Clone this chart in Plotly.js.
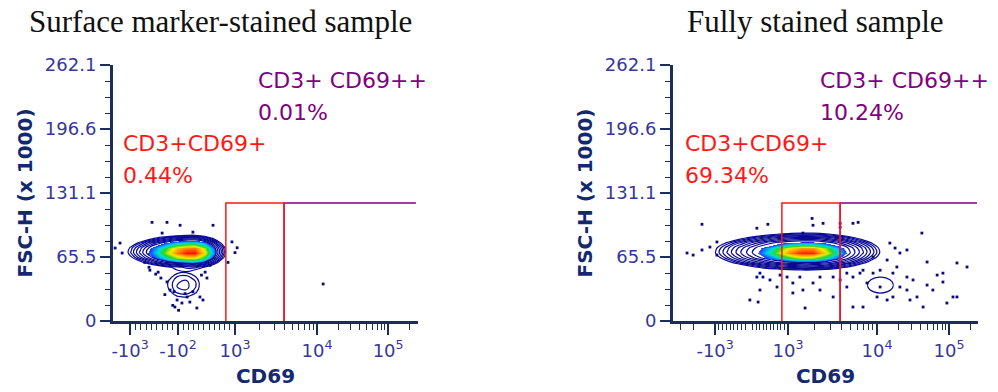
<!DOCTYPE html>
<html>
<head>
<meta charset="utf-8">
<script src="https://cdn.plot.ly/plotly-3.0.1.min.js"></script>
<style>html,body{margin:0;padding:0;background:#fff;}#chart{width:998px;height:392px;}</style>
</head>
<body>
<div id="chart"></div>
<script>
// ---------- DATA ----------
// x values are in display (logicle) channel units 0..1000, y in FSC-H x1000
const panelTitles = ['Surface marker-stained sample', 'Fully stained sample'];
const yTickText = ['0', '65.5', '131.1', '196.6', '262.1'];
const yTickVals = [0, 65.525, 131.05, 196.575, 262.1];
const leftTickText = ['-10<sup>3</sup>', '-10<sup>2</sup>', '10<sup>3</sup>', '10<sup>4</sup>', '10<sup>5</sup>'];
const rightTickText = ['-10<sup>3</sup>', '10<sup>3</sup>', '10<sup>4</sup>', '10<sup>5</sup>'];
// display-unit positions of -1e3, -1e2, 1e3, 1e4, 1e5 on each axis
const leftDecades = [56, 213, 400, 669, 902];
const rightDecades = [138, 249, 377, 669, 905];

// gates: [red left edge, red/purple boundary, purple right edge], gate top (FSC-H)
const leftGate = [370, 561, 993];
const rightGate = [357, 548, 997];
const gateTop = 120.8;
const leftLabels = ['CD3+CD69+', '0.44%', 'CD3+ CD69++', '0.01%'];
const rightLabels = ['CD3+CD69+', '69.34%', 'CD3+ CD69++', '10.24%'];

// estimated log-density grids
const leftGridX = [0, 30, 60, 90, 120, 150, 180, 210, 240, 270, 300, 330, 360, 390, 420];
const leftGridY = [15, 20, 25, 30, 35, 40, 45, 50, 55, 60, 65, 70, 75, 80, 85, 90, 95, 100];
const leftDensity = [
  [-3,-3,-3,-3,-3,-3,-3,-3,-3,-3,-3,-3,-3,-3,-3],
  [-3,-3,-3,-3,-3,-3,-2.5,-0.9,-0.6,-1.6,-3,-3,-3,-3,-3],
  [-3,-3,-3,-3,-3,-3,-0.7,0.9,1.2,0.2,-2.1,-3,-3,-3,-3],
  [-3,-3,-3,-3,-3,-2.4,0.5,2.1,2.4,1.4,-0.9,-3,-3,-3,-3],
  [-3,-3,-3,-3,-3,-1.8,1.0,2.6,2.9,1.9,-0.3,-3,-3,-3,-3],
  [-3,-3,-3,-3,-3,-1.9,1.0,2.5,2.8,1.9,-0.4,-3,-3,-3,-3],
  [-3,-3,-3,-3,-3,-2.6,0.3,1.9,2.2,1.2,-1.1,-3,-3,-3,-3],
  [-3,-3,-3,-3,-3,-3,-1.0,0.6,0.9,-0.1,-2.4,-3,-3,-3,-3],
  [-3,-3,-3,-3,-2.3,-0.6,0.7,1.5,2.0,2.1,0.9,-1.8,-3,-3,-3],
  [-3,-3,-2.2,0.3,2.4,4.1,5.3,6.2,6.7,6.8,5.6,2.9,-1.4,-3,-3],
  [-3,-2.1,0.8,3.2,5.3,7.0,8.3,9.2,9.6,9.7,8.5,5.8,1.5,-3,-3],
  [-3,-0.9,2.0,4.5,6.5,8.2,9.5,10.4,10.9,10.9,9.7,7.0,2.7,-3,-3],
  [-3,-1.4,1.5,3.9,6.0,7.7,9.0,9.9,10.3,10.4,9.2,6.5,2.2,-3,-3],
  [-3,-3,-0.8,1.7,3.8,5.4,6.7,7.6,8.1,8.2,7.0,4.2,0.0,-3,-3],
  [-3,-3,-3,-2.3,-0.2,1.5,2.7,3.6,4.1,4.2,3.0,0.3,-3,-3,-3],
  [-3,-3,-3,-3,-3,-3,-3,-2.1,-1.6,-1.5,-2.7,-3,-3,-3,-3],
  [-3,-3,-3,-3,-3,-3,-3,-3,-3,-3,-3,-3,-3,-3,-3],
  [-3,-3,-3,-3,-3,-3,-3,-3,-3,-3,-3,-3,-3,-3,-3]
];
const rightGridX = [60, 100, 140, 180, 220, 260, 300, 340, 380, 420, 460, 500, 540, 580, 620, 660, 700, 740, 780];
const rightGridY = [15, 20, 25, 30, 35, 40, 45, 50, 55, 60, 65, 70, 75, 80, 85, 90, 95, 100];
const rightDensity = [
  [-3,-3,-3,-3,-3,-3,-3,-3,-3,-3,-3,-3,-3,-3,-3,-3,-3,-3,-3],
  [-3,-3,-3,-3,-3,-3,-3,-3,-3,-3,-3,-3,-3,-3,-3,-3,-3,-3,-3],
  [-3,-3,-3,-3,-3,-3,-3,-3,-3,-3,-3,-3,-3,-3,-1.9,-0.4,-0.4,-1.9,-3],
  [-3,-3,-3,-3,-3,-3,-3,-3,-3,-3,-3,-3,-3,-3,-0.4,1.1,1.1,-0.4,-3],
  [-3,-3,-3,-3,-3,-3,-3,-3,-3,-3,-3,-3,-3,-2.6,0.3,1.8,1.8,0.3,-2.6],
  [-3,-3,-3,-3,-3,-3,-3,-3,-3,-3,-3,-3,-3,-2.7,0.2,1.7,1.7,0.2,-2.7],
  [-3,-3,-3,-3,-3,-3,-3,-3,-3,-3,-3,-3,-3,-3,-0.6,0.8,0.8,-0.6,-3],
  [-3,-3,-3,-3,-3,-3,-3,-2.3,-1.6,-1.3,-1.3,-1.9,-3,-3,-2.3,-0.8,-0.8,-2.3,-3],
  [-3,-3,-3,-3,-1.4,0.4,1.8,2.8,3.5,3.9,3.8,3.3,2.1,0.5,-1.8,-3,-3,-3,-3],
  [-3,-3,-2.2,0.3,2.4,4.1,5.5,6.6,7.3,7.6,7.6,7.0,5.9,4.2,2.0,-0.8,-3,-3,-3],
  [-3,-2.7,0.1,2.6,4.7,6.5,7.9,8.9,9.6,10.0,9.9,9.4,8.2,6.6,4.3,1.5,-1.8,-3,-3],
  [-3,-1.7,1.1,3.6,5.7,7.4,8.8,9.9,10.6,10.9,10.9,10.3,9.2,7.5,5.3,2.5,-0.9,-3,-3],
  [-3,-2.1,0.7,3.2,5.3,7.0,8.4,9.5,10.2,10.5,10.5,9.9,8.8,7.1,4.9,2.1,-1.3,-3,-3],
  [-3,-3,-1.1,1.4,3.5,5.2,6.6,7.7,8.4,8.7,8.7,8.1,7.0,5.3,3.1,0.3,-3,-3,-3],
  [-3,-3,-3,-1.8,0.3,2.0,3.4,4.5,5.2,5.5,5.5,4.9,3.8,2.1,-0.1,-2.9,-3,-3,-3],
  [-3,-3,-3,-3,-3,-2.5,-1.1,-0.1,0.6,1.0,0.9,0.4,-0.8,-2.5,-3,-3,-3,-3,-3],
  [-3,-3,-3,-3,-3,-3,-3,-3,-3,-3,-3,-3,-3,-3,-3,-3,-3,-3,-3],
  [-3,-3,-3,-3,-3,-3,-3,-3,-3,-3,-3,-3,-3,-3,-3,-3,-3,-3,-3]
];

// outlier events
const leftDotsX = [128,177,220,328,161,262,7,23,30,390,407,400,377,121,148,302,308,187,210,226,252,275,243,285,689,177,295,203,157,196,170,200,215,236,262,140,118,104,290,318];
const leftDotsY = [101,101,98,98,90,91,74.7,79.8,69.6,81,75,70,60,52,50,50,44,31.7,21.5,18.4,19.4,13.3,24.6,24.6,37.9,40,21.5,14.3,44,16,27,30,11,28,30,48,55,60,47,57];
const rightDotsX = [95,275,311,456,459,492,548,590,607,426,548,816,46,66,95,121,144,144,711,728,767,744,833,931,964,885,898,931,820,800,767,833,787,744,721,669,623,590,636,613,656,679,721,767,570,548,525,482,459,426,433,393,374,341,318,295,285,252,279,275,285,525,590,570,482,416,351,393,679,702,777,852,866,885,918,734,702,623,656];
const rightDotsY = [99,95,99,105,98,100,100,100,101,90,96,90,69.6,67.5,72.7,75.7,80.9,67.5,79.8,74.7,72.7,69.6,60.4,59.4,55.3,39.9,18.4,24.6,14.3,24.6,31.7,36.8,42,34.8,24.6,24.6,14.3,14.3,38.9,49,49,52,49,45,34.8,42,24.6,31.7,38.9,31.7,13.3,38.9,45,34.8,42,45,31.7,21.5,19.4,45,49,45,45,49,45,45,47,28.7,34.8,21.5,21.5,31.7,47,49,24.6,55.3,62.4,52,65.5];

// ---------- STYLE ----------
const NAVY = '#1b2d5c';
const TICKC = '#36369c';
const TITLEC = '#14286e';
const RED = 'rgb(255,24,24)';
const PURPLE = 'rgb(128,0,128)';
const coreScale = [[0,'rgba(255,255,255,0)'],[0.015,'rgb(40,40,255)'],[0.2,'rgb(0,150,255)'],[0.38,'rgb(0,225,210)'],[0.55,'rgb(40,215,40)'],[0.72,'rgb(240,240,0)'],[0.86,'rgb(255,140,0)'],[1,'rgb(255,0,0)']];

function minorTicks(d) {
  const [pm3, pm2, p3, p4, p5] = d;
  const out = [];
  for (let v = -900; v <= -200; v += 100) out.push(pm3 + (v + 1000) / 900 * (pm2 - pm3));
  for (let v = 0; v <= 900; v += 100) out.push(pm2 + (v + 100) / 1100 * (p3 - pm2));
  for (let k = 2; k <= 9; k++) {
    out.push(p3 + Math.log10(k) * (p4 - p3));
    out.push(p4 + Math.log10(k) * (p5 - p4));
  }
  out.push(p5 + Math.log10(2) * (p5 - p4));
  out.push(pm3 - Math.log10(2) * (p5 - p4));
  out.push(pm3 - Math.log10(3) * (p5 - p4));
  return out.filter(v => v > 0 && v < 1000);
}
const yMinor = [];
for (let k = 1; k < 16; k++) if (k % 4) yMinor.push(k * 262.1 / 16);

function gateTraces(g, xa, ya) {
  return [
    {type:'scatter', mode:'lines', x:[g[1], g[1], g[2]], y:[0, gateTop, gateTop], xaxis:xa, yaxis:ya,
     line:{color:PURPLE, width:1.5}, hoverinfo:'skip', showlegend:false},
    {type:'scatter', mode:'lines', x:[g[0], g[0], g[1], g[1]], y:[0, gateTop, gateTop, 0], xaxis:xa, yaxis:ya,
     line:{color:RED, width:1.5}, hoverinfo:'skip', showlegend:false}
  ];
}
function popTraces(gx, gy, z, dx, dy, coreMin, lineEnd, xa, ya) {
  return [
    {type:'heatmap', x:gx, y:gy, z:z, zsmooth:'best', zmin:coreMin, zmax:11, colorscale:coreScale,
     showscale:false, hoverinfo:'skip', xaxis:xa, yaxis:ya},
    {type:'contour', x:gx, y:gy, z:z, contours:{start:1, end:lineEnd, size:0.8, coloring:'none'},
     line:{color:'#0a0a96', width:1.2, smoothing:1.2}, showscale:false, hoverinfo:'skip', xaxis:xa, yaxis:ya},
    {type:'scatter', mode:'markers', x:dx, y:dy, xaxis:xa, yaxis:ya,
     marker:{symbol:'square', size:2.8, color:'#0a0a80', line:{width:0}}, hoverinfo:'skip', showlegend:false}
  ];
}

const traces = [].concat(
  popTraces(leftGridX, leftGridY, leftDensity, leftDotsX, leftDotsY, 6, 6, 'x', 'y'),
  gateTraces(leftGate, 'x', 'y'),
  popTraces(rightGridX, rightGridY, rightDensity, rightDotsX, rightDotsY, 8, 8, 'x2', 'y2'),
  gateTraces(rightGate, 'x2', 'y2')
);

const W = 998, H = 392;
const yDom = [1 - 321 / H, 1 - 65 / H];
function xAxis(dom, vals, text, minor) {
  return {domain:dom, range:[0, 1000], showgrid:false, zeroline:false, showline:true, linecolor:NAVY, linewidth:3,
    ticks:'outside', ticklen:11, tickwidth:1.5, tickcolor:NAVY, tickmode:'array', tickvals:vals, ticktext:text,
    tickfont:{family:'DejaVu Sans', size:18, color:TICKC},
    minor:{tickmode:'array', tickvals:minor, ticks:'outside', ticklen:6, tickwidth:1, tickcolor:NAVY},
    title:{text:'CD69', font:{family:'DejaVu Sans', size:20, color:TITLEC, weight:'bold'}, standoff:10},
    fixedrange:true};
}
function yAxis(anchor) {
  return {domain:yDom, anchor:anchor, range:[0, 262.1], showgrid:false, zeroline:false, showline:true, linecolor:NAVY, linewidth:3,
    ticks:'outside', ticklen:10, tickwidth:1.5, tickcolor:NAVY, tickmode:'array', tickvals:yTickVals, ticktext:yTickText,
    tickfont:{family:'DejaVu Sans', size:18, color:TICKC},
    minor:{tickmode:'array', tickvals:yMinor, ticks:'outside', ticklen:5, tickwidth:1, tickcolor:NAVY},
    title:{text:'FSC-H (x 1000)', font:{family:'DejaVu Sans', size:20, color:TITLEC, weight:'bold'}, standoff:7},
    fixedrange:true};
}
const leftDom = [113 / W, 418 / W], rightDom = [673 / W, 978 / W];
const leftMajor = leftDecades;
const rightMajor = [rightDecades[0], rightDecades[2], rightDecades[3], rightDecades[4]];

function lab(text, px, py, color) {
  return {text:text, xref:'paper', yref:'paper', x:px / W, y:1 - py / H, xanchor:'left', yanchor:'middle',
    showarrow:false, font:{family:'DejaVu Sans', size:22, color:color}};
}
const annotations = [
  {text:panelTitles[0], xref:'paper', yref:'paper', x:220 / W, y:1 - 21 / H, xanchor:'center', yanchor:'middle', showarrow:false,
   font:{family:'Liberation Serif', size:31, color:'#111'}},
  {text:panelTitles[1], xref:'paper', yref:'paper', x:815 / W, y:1 - 21 / H, xanchor:'center', yanchor:'middle', showarrow:false,
   font:{family:'Liberation Serif', size:31, color:'#111'}},
  lab(leftLabels[0], 121, 143, RED), lab(leftLabels[1], 121, 175, RED),
  lab(leftLabels[2], 256, 81, PURPLE), lab(leftLabels[3], 256, 112, PURPLE),
  lab(rightLabels[0], 683, 143, RED), lab(rightLabels[1], 683, 175, RED),
  lab(rightLabels[2], 818, 81, PURPLE), lab(rightLabels[3], 818, 112, PURPLE)
];

const layout = {
  width:W, height:H, margin:{l:0, r:0, t:0, b:0}, paper_bgcolor:'#fff', plot_bgcolor:'#fff', showlegend:false,
  xaxis:xAxis(leftDom, leftMajor, leftTickText, minorTicks(leftDecades)),
  xaxis2:Object.assign(xAxis(rightDom, rightMajor, rightTickText, minorTicks(rightDecades)), {anchor:'y2'}),
  yaxis:yAxis('x'),
  yaxis2:yAxis('x2'),
  annotations:annotations
};
layout.xaxis.anchor = 'y';
Plotly.newPlot('chart', traces, layout, {displayModeBar:false, staticPlot:true});
</script>
</body>
</html>
